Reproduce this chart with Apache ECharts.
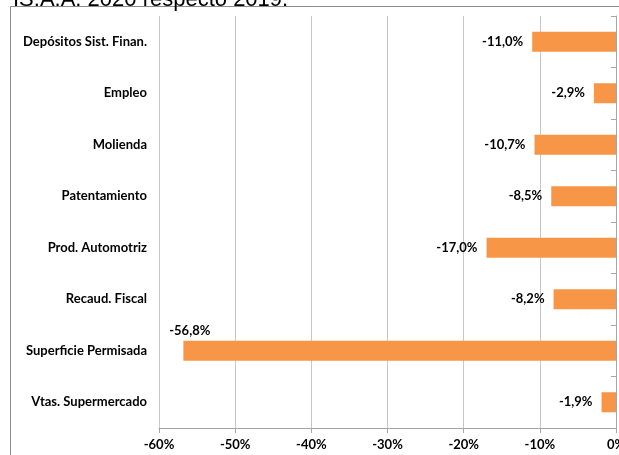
<!DOCTYPE html>
<html>
<head>
<meta charset="utf-8">
<script src="https://cdn.jsdelivr.net/npm/echarts@6/dist/echarts.min.js"></script>
<style>
  html, body { margin: 0; padding: 0; background: #fff; }
  #chart { width: 619px; height: 455px; }
</style>
</head>
<body>
<div id="chart"></div>
<script>
var categories = ['Depósitos Sist. Finan.', 'Empleo', 'Molienda', 'Patentamiento',
    'Prod. Automotriz', 'Recaud. Fiscal', 'Superficie Permisada', 'Vtas. Supermercado'];
var values = [-11.0, -2.9, -10.7, -8.5, -17.0, -8.2, -56.8, -1.9];
var xTicks = [-60, -50, -40, -30, -20, -10, 0];

var font = 'Lato, "Open Sans", sans-serif';
var myChart = echarts.init(document.getElementById('chart'));

function pct(v) {
    return v.toFixed(1).replace('.', ',') + '%';
}

var barData = values.map(function (v, i) {
    var item = { value: v };
    // the long bar carries its label above its far end
    if (v < -50) {
        item.label = { position: 'left', offset: [36, -20] };
    }
    return item;
});

option = {
    animation: false,
    title: {
        text: 'IS.A.A. 2020 respecto 2019.',
        left: 8,
        top: -16,
        textStyle: { fontFamily: 'Arial, "Liberation Sans", sans-serif', fontSize: 22, fontWeight: 'normal', color: '#000' }
    },
    graphic: [{
        type: 'rect',
        shape: { x: 10.5, y: 6.5, width: 700, height: 600 },
        style: { fill: 'none', stroke: '#8c8c8c', lineWidth: 1 },
        silent: true
    }],
    grid: { left: 159, right: 3, top: 16, bottom: 27, outerBoundsMode: 'none', containLabel: false },
    xAxis: {
        type: 'value',
        min: xTicks[0],
        max: xTicks[xTicks.length - 1],
        interval: 10,
        axisLine: { show: true, lineStyle: { color: '#a6a6a6' } },
        axisTick: { show: true, length: 5, lineStyle: { color: '#a6a6a6' } },
        splitLine: { show: true, lineStyle: { color: '#c8c8c8' } },
        axisLabel: {
            margin: 10,
            fontFamily: font, fontWeight: 'bold', fontSize: 13, color: '#000',
            formatter: function (v) { return v + '%'; }
        }
    },
    yAxis: [{
        type: 'category',
        data: categories,
        inverse: true,
        position: 'left',
        axisLine: { show: false },
        axisTick: { show: false },
        axisLabel: { margin: 12, fontFamily: font, fontWeight: 'bold', fontSize: 13, color: '#000' }
    }, {
        type: 'category',
        data: categories,
        inverse: true,
        position: 'right',
        axisLine: { show: true, lineStyle: { color: '#a6a6a6' } },
        axisTick: { show: true, inside: true, length: 5, lineStyle: { color: '#a6a6a6' } },
        axisLabel: { show: false }
    }],
    series: [{
        type: 'bar',
        yAxisIndex: 0,
        data: barData,
        barWidth: 20,
        itemStyle: { color: '#F79646' },
        label: {
            show: true,
            position: 'left',
            distance: 9,
            fontFamily: font, fontWeight: 'bold', fontSize: 13, color: '#000',
            formatter: function (p) { return pct(p.value); }
        }
    }]
};
myChart.setOption(option);
</script>
</body>
</html>
